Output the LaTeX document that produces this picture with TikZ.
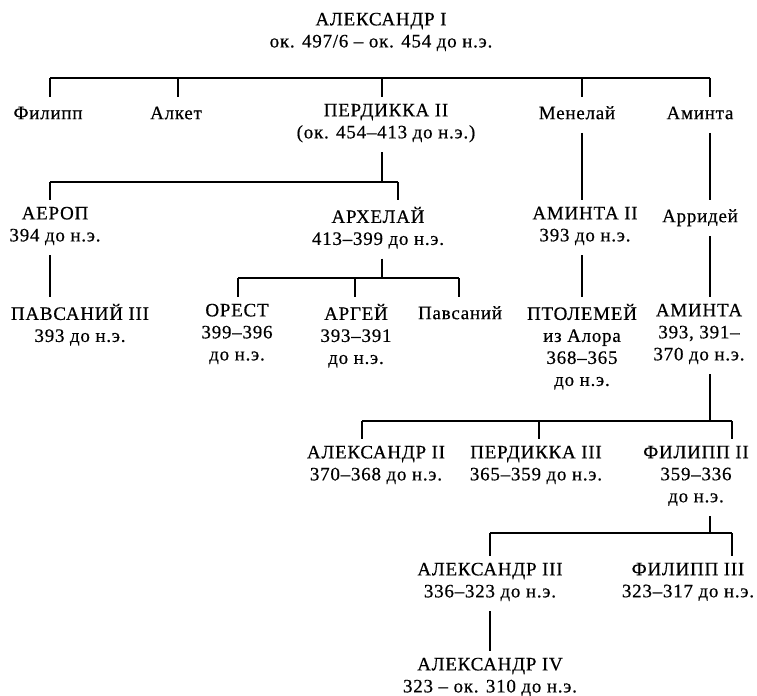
\documentclass[tikz,border=0pt]{standalone}
\usepackage{fontspec}
\setmainfont{Liberation Serif}
\newfontfamily\rodfont{Liberation Serif}[LetterSpace=4, FakeBold=0.5]

\tikzset{
  person/.style={anchor=north, align=center, inner sep=0pt,
    font=\rodfont\fontsize{19bp}{22bp}\selectfont,
    execute at begin node=\strut, execute at end node=\strut},
  link/.style={line width=1.2bp},
  stem/.style={link, shorten <=7bp},
  drop/.style={link, shorten >=7bp},
}

\begin{document}
\begin{tikzpicture}[x=1bp, y=-1bp]
\useasboundingbox (0,0) rectangle (757,696);

% generation 1
\node[person] (alex1) at (381, 12.6) {АЛЕКСАНДР I\\ок. 497/6 – ок. 454 до н.э.};

% generation 2
\node[person] (filipp) at (48, 103.6) {Филипп};
\node[person] (alket) at (176, 103.6) {Алкет};
\node[person] (perd2) at (386, 103.6) {ПЕРДИККА II\\(ок. 454–413 до н.э.)};
\node[person] (menel) at (577, 103.6) {Менелай};
\node[person] (amint) at (700, 103.6) {Аминта};

% generation 3
\node[person] (aerop) at (55, 206.6) {АЕРОП\\394 до н.э.};
\node[person] (archel) at (378, 206.6) {АРХЕЛАЙ\\413–399 до н.э.};
\node[person] (amint2) at (585, 206.6) {АМИНТА II\\393 до н.э.};
\node[person] (arrid) at (700, 206.6) {Арридей};

% generation 4
\node[person] (pavs3) at (80, 303.6) {ПАВСАНИЙ III\\393 до н.э.};
\node[person] (orest) at (237, 303.6) {ОРЕСТ\\399–396\\до н.э.};
\node[person] (argei) at (356, 303.6) {АРГЕЙ\\393–391\\до н.э.};
\node[person] (pavs) at (460, 303.6) {Павсаний};
\node[person] (ptol) at (582, 303.6) {ПТОЛЕМЕЙ\\из Алора\\368–365\\до н.э.};
\node[person] (amynta) at (699, 303.6) {АМИНТА\\393, 391–\\370 до н.э.};

% generation 5
\node[person] (alex2) at (376, 445.6) {АЛЕКСАНДР II\\370–368 до н.э.};
\node[person] (perd3) at (536, 445.6) {ПЕРДИККА III\\365–359 до н.э.};
\node[person] (filip2) at (696, 445.6) {ФИЛИПП II\\359–336\\до н.э.};

% generation 6, 7
\node[person] (alex3) at (490, 562.6) {АЛЕКСАНДР III\\336–323 до н.э.};
\node[person] (filip3) at (688, 562.6) {ФИЛИПП III\\323–317 до н.э.};
\node[person] (alex4) at (490, 657.6) {АЛЕКСАНДР IV\\323 – ок. 310 до н.э.};

% sons of Alexander I
\draw[link] (50,78) -- (710,78);
\foreach \x/\n in {50/filipp, 178/alket, 382/perd2, 582/menel, 710/amint}
  \draw[drop] (\x,78) -- (\x,78 |- \n.north);

% sons of Perdikkas II
\draw[stem] (perd2.south -| 382,0) -- (382,182);
\draw[link] (50,182) -- (398,182);
\foreach \x/\n in {50/aerop, 398/archel}
  \draw[drop] (\x,182) -- (\x,182 |- \n.north);

% single lines
\draw[stem, drop] (menel.south -| 582,0) -- (582,0 |- amint2.north);
\draw[stem, drop] (amint.south -| 710,0) -- (710,0 |- arrid.north);
\draw[stem, drop] (aerop.south -| 50,0) -- (50,0 |- pavs3.north);
\draw[stem, drop] (amint2.south -| 582,0) -- (582,0 |- ptol.north);
\draw[stem, drop] (arrid.south -| 710,0) -- (710,0 |- amynta.north);

% sons of Archelaos
\draw[stem] (archel.south -| 382,0) -- (382,278);
\draw[link] (238,278) -- (459,278);
\foreach \x/\n in {238/orest, 355/argei, 459/pavs}
  \draw[drop] (\x,278) -- (\x,278 |- \n.north);

% sons of Amyntas
\draw[stem] (amynta.south -| 710,0) -- (710,421);
\draw[link] (362,421) -- (732,421);
\foreach \x/\n in {362/alex2, 539/perd3, 732/filip2}
  \draw[drop] (\x,421) -- (\x,421 |- \n.north);

% sons of Philip II
\draw[stem] (filip2.south -| 710,0) -- (710,533);
\draw[link] (490,533) -- (732,533);
\foreach \x/\n in {490/alex3, 732/filip3}
  \draw[drop] (\x,533) -- (\x,533 |- \n.north);

\draw[stem, drop] (alex3.south -| 490,0) -- (490,0 |- alex4.north);

\end{tikzpicture}
\end{document}
